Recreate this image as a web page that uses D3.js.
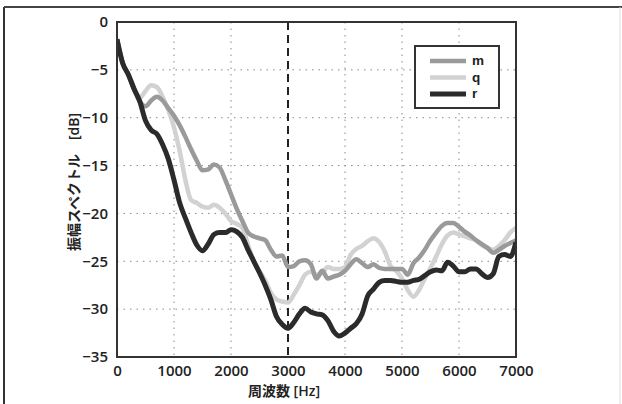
<!DOCTYPE html>
<html><head><meta charset="utf-8">
<script src="https://cdn.jsdelivr.net/npm/d3@7"></script>
<style>html,body{margin:0;padding:0;background:#fff;}svg{display:block;}</style>
</head><body>
<svg id="c" width="622" height="404"></svg>
<script>
const freqs = d3.range(0, 7001, 100);
const seriesNames = ["m", "q", "r"];
const mValues = [-1.8,-4.3,-5.5,-7.0,-8.3,-8.8,-8.2,-7.8,-8.2,-9.0,-9.8,-10.8,-12.0,-13.3,-14.5,-15.5,-15.4,-14.9,-15.2,-16.5,-18.0,-19.5,-20.8,-22.0,-22.4,-22.6,-22.8,-23.8,-24.5,-24.4,-25.6,-25.5,-25.0,-24.9,-25.3,-26.8,-26.0,-26.8,-26.6,-26.4,-26.0,-25.3,-24.8,-25.2,-25.6,-25.3,-25.7,-25.8,-25.8,-25.8,-25.8,-26.4,-25.2,-24.6,-23.8,-22.8,-22.0,-21.3,-21.0,-21.0,-21.4,-21.9,-22.3,-22.8,-23.2,-23.6,-24.1,-23.8,-23.4,-23.1,-22.8];
const qValues = [-1.8,-4.3,-5.5,-7.0,-7.9,-7.2,-6.6,-6.8,-7.8,-9.2,-11.0,-13.5,-16.5,-18.6,-18.9,-19.3,-19.4,-19.1,-19.4,-20.0,-20.8,-21.1,-21.5,-23.3,-25.0,-26.0,-27.0,-28.3,-29.0,-29.2,-29.3,-28.5,-27.5,-26.4,-26.1,-26.4,-26.2,-25.6,-25.8,-25.8,-25.6,-24.3,-23.7,-23.4,-22.9,-22.6,-23.0,-24.0,-25.5,-26.0,-26.8,-28.0,-28.7,-28.0,-26.8,-25.7,-24.5,-23.2,-22.3,-22.0,-22.2,-22.4,-22.6,-22.8,-23.3,-23.6,-23.8,-23.4,-22.8,-22.0,-21.5];
const rValues = [-1.8,-4.3,-5.5,-7.0,-8.3,-10.3,-11.3,-11.7,-12.8,-14.3,-16.5,-18.9,-20.5,-22.0,-23.3,-23.9,-23.2,-22.2,-22.0,-22.0,-21.7,-21.9,-22.5,-23.8,-25.0,-26.2,-27.5,-29.0,-30.8,-31.6,-32.0,-31.4,-30.5,-29.9,-30.3,-30.5,-30.6,-31.2,-32.3,-32.8,-32.5,-32.0,-31.5,-30.5,-28.6,-27.9,-27.2,-27.0,-27.0,-27.1,-27.2,-27.2,-27.0,-26.9,-26.5,-26.1,-25.9,-26.0,-25.1,-25.5,-26.1,-26.1,-25.8,-25.8,-26.3,-26.7,-26.3,-24.5,-24.3,-24.5,-23.0];
const xTicks = [0,1000,2000,3000,4000,5000,6000,7000];
const yTicks = [0,-5,-10,-15,-20,-25,-30,-35];
const markerFreq = 3000;
const xLabel = "周波数 [Hz]";
const yLabel = "振幅スペクトル　[dB]";

const svg = d3.select("#c");
const L = 117, R = 516, T = 22, B = 357;
const x = d3.scaleLinear().domain([0, 7000]).range([L, R]);
const y = d3.scaleLinear().domain([-35, 0]).range([B, T]);
const font = "'Open Sans', 'Noto Sans CJK JP', sans-serif";

// outer frame
svg.append("line").attr("x1",4).attr("x2",4).attr("y1",7).attr("y2",404).attr("stroke","#333").attr("stroke-width",2);
svg.append("line").attr("x1",4).attr("x2",622).attr("y1",7).attr("y2",7).attr("stroke","#444").attr("stroke-width",2);
svg.append("line").attr("x1",620).attr("x2",620).attr("y1",7).attr("y2",404).attr("stroke","#ddd").attr("stroke-width",1);

// grid
const grid = svg.append("g");
grid.selectAll(".gx").data(xTicks.slice(1,-1)).join("line")
  .attr("x1",d=>x(d)).attr("x2",d=>x(d)).attr("y1",T).attr("y2",B)
  .attr("stroke","#888").attr("stroke-width",1).attr("stroke-dasharray","1.5,5");
grid.selectAll(".gy").data(yTicks.slice(1,-1)).join("line")
  .attr("x1",L).attr("x2",R).attr("y1",d=>y(d)).attr("y2",d=>y(d))
  .attr("stroke","#888").attr("stroke-width",1).attr("stroke-dasharray","1.5,5");

// marker line
svg.append("line").attr("x1",x(markerFreq)).attr("x2",x(markerFreq)).attr("y1",T).attr("y2",B)
  .attr("stroke","#222").attr("stroke-width",2).attr("stroke-dasharray","8,5");

// lines
const line = d3.line().x((d,i)=>x(freqs[i])).y(d=>y(d)).curve(d3.curveMonotoneX);
const styles = {m:{c:"#9a9a9a",w:4.5}, q:{c:"#d2d2d2",w:4.5}, r:{c:"#2b2b2b",w:5}};
const data = {m:mValues, q:qValues, r:rValues};
const clip = svg.append("clipPath").attr("id","pc").append("rect").attr("x",L).attr("y",T).attr("width",R-L).attr("height",B-T);
const plot = svg.append("g").attr("clip-path","url(#pc)");
["q","m","r"].forEach(k=>{
  plot.append("path").attr("d",line(data[k])).attr("fill","none")
    .attr("stroke",styles[k].c).attr("stroke-width",styles[k].w).attr("stroke-linejoin","round");
});

// axes frame
svg.append("rect").attr("x",L).attr("y",T).attr("width",R-L).attr("height",B-T)
  .attr("fill","none").attr("stroke","#333").attr("stroke-width",2);

// axis labels
const xAxis = d3.axisBottom(x).tickValues(xTicks).tickSize(0).tickPadding(8).tickFormat(d3.format("d"));
const gx = svg.append("g").attr("transform",`translate(0,${B})`).call(xAxis);
gx.select(".domain").remove();
gx.selectAll("text").attr("font-family",font).attr("font-size",15).attr("font-weight",600).attr("fill","#222");

const yAxis = d3.axisLeft(y).tickValues(yTicks).tickSize(0).tickPadding(9).tickFormat(d=>d3.format("d")(d).replace("-","\u2212"));
const gy = svg.append("g").attr("transform",`translate(${L},0)`).call(yAxis);
gy.select(".domain").remove();
gy.selectAll("text").attr("font-family",font).attr("font-size",15).attr("font-weight",600).attr("fill","#222");

svg.append("text").attr("x",284).attr("y",396).attr("text-anchor","middle")
  .attr("font-family",font).attr("font-size",14).attr("font-weight",600).attr("fill","#222").text(xLabel);
svg.append("text").attr("transform","translate(79,182) rotate(-90)").attr("text-anchor","middle")
  .attr("font-family",font).attr("font-size",14).attr("font-weight",600).attr("fill","#222").text(yLabel);

// legend
const lg = svg.append("g");
lg.append("rect").attr("x",415).attr("y",46).attr("width",84).attr("height",62)
  .attr("fill","#fff").attr("stroke","#333").attr("stroke-width",2);
seriesNames.forEach((k,i)=>{
  const yy = 61 + i*16.5;
  lg.append("line").attr("x1",430).attr("x2",466).attr("y1",yy).attr("y2",yy)
    .attr("stroke",styles[k].c).attr("stroke-width",styles[k].w);
  lg.append("text").attr("x",472).attr("y",yy+4).attr("font-family","'Liberation Sans', Arial, sans-serif").attr("font-size",13.5)
    .attr("font-weight",700).attr("fill","#222").text(k);
});
</script>
</body></html>
